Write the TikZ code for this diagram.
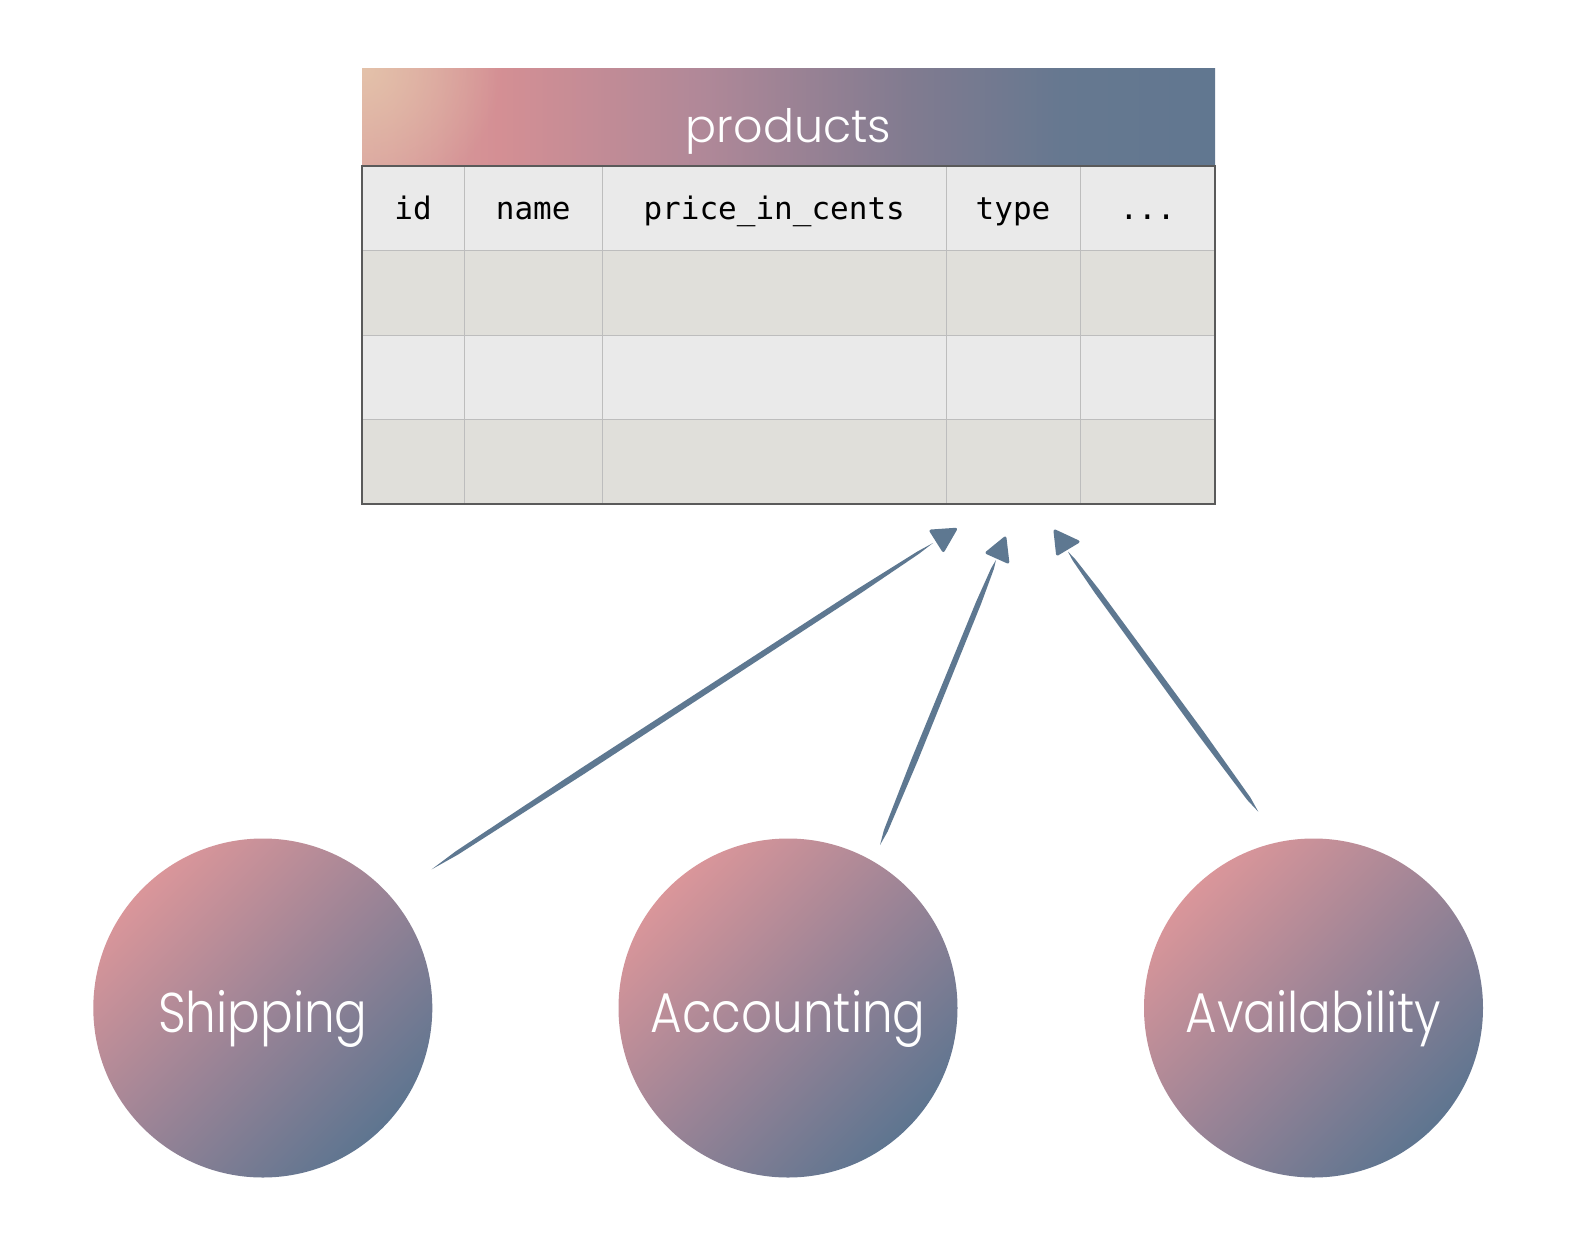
\documentclass[tikz,border=0pt]{standalone}
\usepackage{fontspec}
\newfontfamily\thinfont{Poppins}[UprightFont=* Light]
\newfontfamily\codefont{DejaVu Sans Mono}
\usetikzlibrary{calc,fadings}
\definecolor{hpeach}{HTML}{E4C2AA}
\definecolor{hleft}{HTML}{DAA29F}
\definecolor{hpink}{HTML}{D48F94}
\definecolor{hmauve}{HTML}{B08898}
\definecolor{hgrape}{HTML}{817B90}
\definecolor{hblue}{HTML}{667890}
\definecolor{hblueend}{HTML}{617790}
\definecolor{cpink}{HTML}{DA969A}
\definecolor{cmid}{HTML}{9C8496}
\definecolor{cblue}{HTML}{5E7590}
\definecolor{rowlight}{HTML}{EAEAEA}
\definecolor{rowdark}{HTML}{E0DFDA}
\definecolor{gridc}{HTML}{BDBDBD}
\definecolor{borderc}{HTML}{5A5A5A}
\definecolor{arrowc}{HTML}{5E7891}
\pgfdeclarehorizontalshading{hdrshade}{100bp}{color(0bp)=(hleft); color(25bp)=(hleft); color(33bp)=(hpink); color(45bp)=(hmauve); color(57bp)=(hgrape); color(66bp)=(hblue); color(75bp)=(hblueend); color(100bp)=(hblueend)}
\tikzfading[name=cornfade, inner color=transparent!0, outer color=transparent!100]
\tikzset{
  colhead/.style={anchor=base, font=\codefont\fontsize{31}{34}\selectfont, text=black, inner sep=0},
  bubble/.style={circle, minimum size=339pt, inner sep=0, top color=cpink, bottom color=cblue, middle color=cmid, shading angle=45},
  bubbletext/.style={anchor=base, font=\thinfont\fontsize{56}{64}\selectfont, text=white, inner sep=0},
  tip/.style={fill=arrowc, draw=arrowc, line width=3pt, line join=round}
}
\newcommand{\bubblelabel}[1]{\scalebox{0.865}[1]{#1}}
\newcommand{\taper}[2]{%
  \fill[arrowc] (#1) -- ($(#1)!0.05!(#2)!2pt!90:(#2)$) -- ($(#1)!0.3!(#2)!3.2pt!90:(#2)$) -- ($(#1)!0.85!(#2)!2.7pt!90:(#2)$) -- ($(#1)!0.97!(#2)!1.4pt!90:(#2)$) -- (#2)
    -- ($(#1)!0.97!(#2)!1.4pt!-90:(#2)$) -- ($(#1)!0.85!(#2)!2.7pt!-90:(#2)$) -- ($(#1)!0.3!(#2)!3.2pt!-90:(#2)$) -- ($(#1)!0.05!(#2)!2pt!-90:(#2)$) -- cycle;}
\begin{document}
\begin{tikzpicture}[x=1pt,y=-1pt]
\useasboundingbox[fill=white] (0,0) rectangle (1588,1248);
% header
\shade[shading=hdrshade] (362,68) rectangle (1215,166);
\begin{scope}
  \clip (362,68) rectangle (1215,166);
  \fill[hpeach, path fading=cornfade] (362,68) circle[radius=140pt];
\end{scope}
\node[anchor=base, inner sep=0, text=white, font=\thinfont\fontsize{46}{50}\selectfont] (title) at (788.5,142) {products};
% rows
\fill[rowlight] (362,166) rectangle (1215,250);
\fill[rowdark] (362,250) rectangle (1215,335);
\fill[rowlight] (362,335) rectangle (1215,419);
\fill[rowdark] (362,419) rectangle (1215,504);
\foreach \x in {464,602.5,946,1080} \draw[gridc, line width=1pt] (\x,166) -- (\x,504);
\foreach \y in {250,335,419} \draw[gridc, line width=1pt] (362,\y) -- (1215,\y);
\draw[borderc, line width=1.2pt] (362,166) rectangle (1215,504);
% column headings
\node[colhead] (cid) at (413,219) {id};
\node[colhead] (cname) at (533.2,219) {name};
\node[colhead] (cprice) at (774.2,219) {price\_in\_cents};
\node[colhead] (ctype) at (1013,219) {type};
\node[colhead] (cmore) at (1147.5,219) {...};
% circles
\node[bubble] (ship) at (262.8,1008) {};
\node[bubble] (acct) at (788,1008) {};
\node[bubble] (avail) at (1313.5,1008) {};
\node[bubbletext] (shiplbl) at (262.8,1032) {\bubblelabel{Shipping}};
\node[bubbletext] (acctlbl) at (788,1032) {\bubblelabel{Accounting}};
\node[bubbletext] (availlbl) at (1313.5,1032) {\bubblelabel{Availability}};
% arrow coordinates
\coordinate (t1) at (431.7,869.3);
\coordinate (h1) at (933,543);
\coordinate (t2) at (880,845);
\coordinate (h2) at (996,560);
\coordinate (t3) at (1258.3,811.7);
\coordinate (h3) at (1068,551.7);
\taper{t1}{h1}
\taper{t2}{h2}
\taper{t3}{h3}
\filldraw[tip] (931,531) -- (955.5,529.3) -- (943.3,550.5) -- cycle;
\filldraw[tip] (987,552.7) -- (1005,538) -- (1007.8,562) -- cycle;
\filldraw[tip] (1055,531) -- (1078,541.7) -- (1057.5,554) -- cycle;
\end{tikzpicture}
\end{document}
